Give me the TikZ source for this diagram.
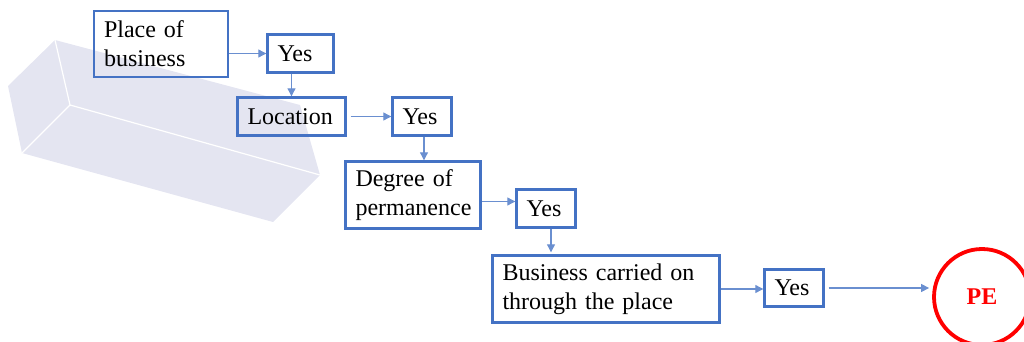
\documentclass[tikz,border=0pt]{standalone}
\usepackage{fontspec}
\setmainfont{Liberation Serif}
\usepackage{tikz}
\usetikzlibrary{arrows.meta}
\usetikzlibrary{calc}
\definecolor{boxblue}{HTML}{4472C4}
\definecolor{linkblue}{HTML}{6A8FD0}
\definecolor{slab}{HTML}{E4E5F1}
\definecolor{pered}{HTML}{FF0000}

\begin{document}
\begin{tikzpicture}[x=1pt,y=-1pt,
  link/.style={-{Triangle[length=8pt,width=8pt,fill=linkblue]},draw=linkblue,line width=1.1pt},
  main node/.style={draw=boxblue,line width=2.4pt,inner ysep=0pt,
    inner xsep=10pt,align=left,font=\fontsize{24}{29}\selectfont}]

\useasboundingbox (0,0) rectangle (1024,342);

% background slab
\fill[slab] (8,86) -- (55,40) -- (300,105) -- (320,175) -- (273,222) -- (22,153) -- cycle;
\draw[white,line width=1.2pt] (55,40) -- (70,105) -- (320,175) (70,105) -- (22,153);

\node[main node,minimum width=134,minimum height=66,text width=114] (place) at (161,44) {Place of\\business};
\node[main node,minimum width=66,minimum height=38,text width=46] (yes1) at (300.5,53.5) {Yes};
\node[main node,minimum width=108,minimum height=38,text width=88] (location) at (291.5,116.5) {Location};
\node[main node,minimum width=59,minimum height=38,text width=39] (yes2) at (422,116.5) {Yes};
\node[main node,minimum width=135,minimum height=67,text width=115] (degree) at (413,195) {Degree of\\permanence};
\node[main node,minimum width=59,minimum height=38,text width=39] (yes3) at (546,208.5) {Yes};
\node[main node,minimum width=227,minimum height=67,text width=207] (business) at (606,289) {Business carried on\\through the place};
\node[main node,minimum width=59,minimum height=37,text width=39] (yes4) at (794,288) {Yes};
\node[circle,draw=pered,line width=3.8pt,minimum size=96,inner sep=0pt,text=pered,
  font=\fontsize{24}{28}\selectfont\bfseries] (pe) at (982,297) {PE};

\draw[link] (place.east |- yes1.west) -- (yes1.west);
\draw[link] (yes1.south -| location.north) -- (location.north);
\draw[link] ([xshift=4pt]location.east) -- (yes2.west);
\draw[link] ([xshift=2pt]yes2.south) -- ([xshift=2pt]yes2.south |- degree.north);
\draw[link] ([yshift=-6.5pt]degree.east) -- ([yshift=7pt]yes3.west);
\draw[link] ([xshift=5pt]yes3.south) -- ([xshift=5pt,yshift=2pt]yes3.south |- business.north);
\draw[link] (business.east) -- (business.east -| yes4.west);
\draw[link] ([xshift=4pt]yes4.east) -- ([xshift=-3pt]yes4.east -| pe.west);
\end{tikzpicture}
\end{document}
